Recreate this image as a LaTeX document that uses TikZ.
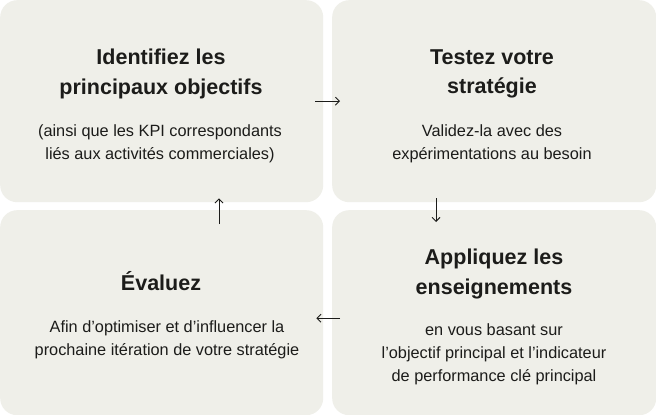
\documentclass[tikz,border=0pt]{standalone}
\usepackage{fontspec}
\setmainfont{Liberation Sans}
\usetikzlibrary{arrows.meta}
\definecolor{boxfill}{HTML}{EFEFE9}
\definecolor{inkdark}{HTML}{1C1C1A}

\begin{document}
\begin{tikzpicture}[x=1pt, y=-1pt,
  stage/.style={rectangle, fill=boxfill, rounded corners=17pt, inner sep=0pt,
    minimum width=323pt, minimum height=202pt, anchor=north west},
  headline/.style={align=center, text=inkdark, font=\fontsize{21.5}{29.5}\selectfont\bfseries},
  detail/.style={align=center, text=inkdark, font=\fontsize{16.3}{23}\selectfont},
  flow/.style={-{Straight Barb[length=4pt, width=8pt]}, line width=0.9pt, draw=inkdark}]
\useasboundingbox (0,0) rectangle (656,415);
\fill[white] (0,0) rectangle (656,415);
% the four stages
\node[stage] (identify) at (0,0) {};
\node[stage, minimum width=324pt] (test) at (332,0) {};
\node[stage, minimum height=205pt] (evaluate) at (0,210) {};
\node[stage, minimum width=324pt, minimum height=205pt] (apply) at (332,210) {};
% texts
\node[headline] (identify-title) at (161,74) {Identifiez les\\principaux objectifs};
\node[detail] (identify-text) at (160,143.5) {(ainsi que les KPI correspondants\\liés aux activités commerciales)};
\node[headline] (test-title) at (492,74) {Testez votre\\stratégie};
\node[detail] (test-text) at (492,143.5) {Validez-la avec des\\expérimentations au besoin};
\node[headline] (apply-title) at (494,274) {Appliquez les\\enseignements};
\node[detail] (apply-text) at (494,354.5) {en vous basant sur\\l’objectif principal et l’indicateur\\de performance clé principal};
\node[headline] (evaluate-title) at (161,281) {Évaluez};
\node[detail] (evaluate-text) at (167,340) {Afin d’optimiser et d’influencer la\\prochaine itération de votre stratégie};
% arrows
\draw[flow] ([xshift=-8pt]identify.east) -- ([xshift=8pt]test.west);
\draw[flow] ([xshift=104pt, yshift=4pt]test.south west) -- ([xshift=104pt, yshift=-12pt]apply.north west);
\draw[flow] ([xshift=8pt, yshift=-5.5pt]apply.west) -- ([xshift=-7pt, yshift=-5.5pt]evaluate.east);
\draw[flow] ([xshift=219pt, yshift=-14pt]evaluate.north west) -- ([xshift=219pt, yshift=4pt]identify.south west);
\end{tikzpicture}
\end{document}
